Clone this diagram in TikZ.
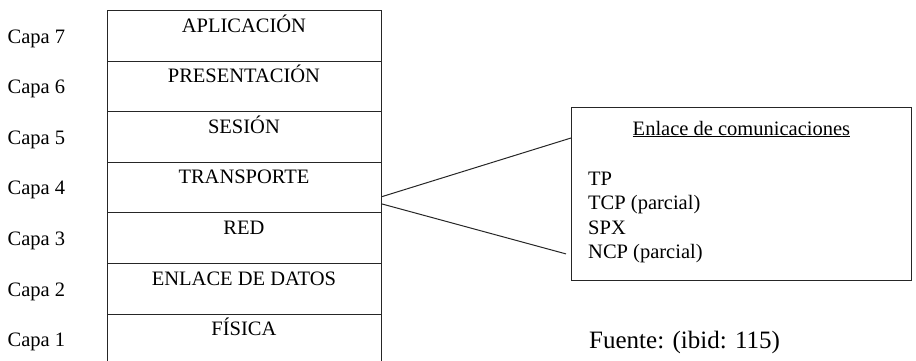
\documentclass[tikz,border=0pt]{standalone}
\usepackage{fontspec}
\setmainfont{Liberation Serif}
\usetikzlibrary{calc,positioning}

\begin{document}
\begin{tikzpicture}[x=1pt, y=-1pt,
	capa/.style={draw=black!85, line width=0.9pt, minimum width=274pt, minimum height=50.6pt, inner sep=0pt, anchor=north west},
	nombre/.style={font=\fontsize{20.5}{23}\selectfont, anchor=base, inner sep=0pt},
	lado/.style={font=\fontsize{20.5}{23}\selectfont, anchor=base west, inner sep=0pt},
	linea/.style={draw=black!85, line width=1pt}]
	%%%%% START %%%%%
	
	\useasboundingbox (0,0) rectangle (916,360);
	
	% pila de capas
	\foreach \n/\t [count=\i from 0] in {7/APLICACIÓN, 6/PRESENTACIÓN, 5/SESIÓN, 4/TRANSPORTE, 3/RED, 2/ENLACE DE DATOS, 1/FÍSICA} {
		\node[capa] (c\n) at (106.5, {10+50.6*\i}) {};
		\node[nombre] (t\n) at ($(c\n.north)+(0,22)$) {\t};
		\node[lado] (k\n) at ($(c\n.north west)+(-99,33)$) {Capa \n};
	}
	
	% recuadro de la derecha
	\node[capa, minimum width=340pt, minimum height=173pt] (enlace) at (571,107) {};
	\node[nombre] (titulo) at ($(enlace.north)+(0,28)$) {\underline{Enlace de comunicaciones}};
	\node[lado] (p1) at (588,185) {TP};
	\node[lado] (p2) at (588,209.5) {TCP (parcial)};
	\node[lado] (p3) at (588,234) {SPX};
	\node[lado] (p4) at (588,258.5) {NCP (parcial)};
	
	\coordinate (a1) at ($(c4.north east)+(0,35)$);
	\coordinate (a2) at ($(c4.north east)+(0,42)$);
	\coordinate (e1) at ($(enlace.north west)+(0,31)$);
	\coordinate (e2) at ($(enlace.south west)+(-5,-27)$);
	\draw[linea] (a1) -- (e1);
	\draw[linea] (a2) -- (e2);
	
	\node[lado, font=\fontsize{25}{29}\selectfont] (fuente) at (589,348) {Fuente: (ibid: 115)};
	
	%%%%% END %%%%%
\end{tikzpicture}
\end{document}
